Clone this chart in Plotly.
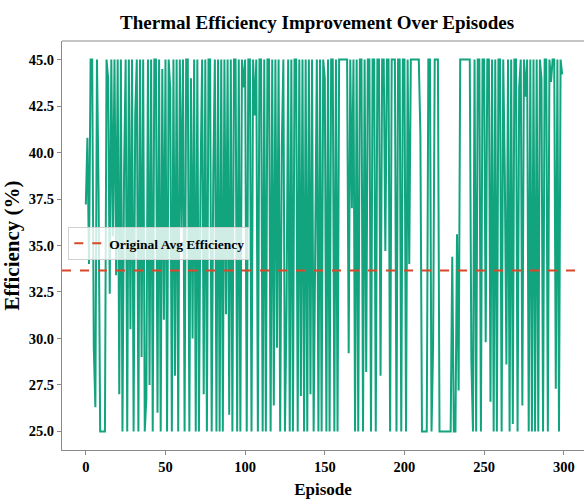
import plotly.graph_objects as go

episodes = list(range(300))
efficiency = [
    37.2, 40.8, 34.0, 45.0, 45.0, 29.5, 26.3, 45.0, 38.0, 25.0,
    25.0, 25.0, 25.0, 45.0, 44.0, 32.4, 45.0, 35.5, 45.0, 33.4,
    45.0, 27.0, 45.0, 25.0, 38.8, 45.0, 25.0, 45.0, 30.5, 45.0,
    25.0, 42.0, 45.0, 25.0, 45.0, 29.0, 45.0, 25.0, 26.8, 45.0,
    27.5, 45.0, 25.0, 45.0, 45.0, 26.0, 45.0, 25.0, 44.5, 31.0,
    45.0, 25.0, 45.0, 43.4, 25.0, 45.0, 28.0, 45.0, 25.0, 45.0,
    36.0, 45.0, 25.0, 45.0, 45.0, 25.0, 44.0, 30.0, 45.0, 25.0,
    45.0, 25.0, 38.5, 45.0, 27.0, 45.0, 25.0, 45.0, 45.0, 25.0,
    38.8, 45.0, 25.0, 45.0, 25.0, 45.0, 25.0, 45.0, 31.3, 45.0,
    25.9, 45.0, 25.0, 45.0, 45.0, 25.0, 45.0, 25.0, 45.0, 43.5,
    45.0, 25.0, 45.0, 45.0, 25.0, 45.0, 42.0, 45.0, 25.0, 45.0,
    45.0, 25.0, 45.0, 25.0, 45.0, 45.0, 25.0, 45.0, 26.4, 45.0,
    29.5, 45.0, 25.0, 40.3, 45.0, 25.0, 31.6, 45.0, 25.0, 45.0,
    25.0, 45.0, 45.0, 25.0, 45.0, 26.9, 45.0, 25.0, 45.0, 25.0,
    45.0, 27.0, 45.0, 25.0, 34.5, 45.0, 25.0, 45.0, 25.0, 45.0,
    44.0, 25.0, 45.0, 25.0, 45.0, 45.0, 25.0, 45.0, 25.0, 45.0,
    45.0, 45.0, 45.0, 45.0, 45.0, 29.2, 45.0, 37.0, 45.0, 25.0,
    45.0, 25.0, 45.0, 45.0, 25.0, 45.0, 28.2, 45.0, 45.0, 25.0,
    45.0, 45.0, 25.0, 45.0, 45.0, 28.0, 45.0, 45.0, 34.7, 45.0,
    45.0, 25.0, 45.0, 45.0, 45.0, 25.0, 45.0, 45.0, 25.0, 45.0,
    45.0, 25.0, 45.0, 34.0, 45.0, 45.0, 45.0, 45.0, 45.0, 45.0,
    41.0, 25.0, 25.0, 25.0, 25.0, 45.0, 45.0, 25.0, 29.7, 45.0,
    45.0, 45.0, 25.0, 25.0, 25.0, 25.0, 25.0, 25.0, 25.0, 25.0,
    34.4, 25.0, 25.0, 35.6, 27.2, 45.0, 45.0, 45.0, 45.0, 45.0,
    45.0, 45.0, 28.8, 25.0, 45.0, 25.0, 45.0, 45.0, 25.0, 45.0,
    45.0, 29.8, 45.0, 45.0, 26.6, 45.0, 25.0, 45.0, 25.0, 45.0,
    45.0, 25.0, 45.0, 38.8, 28.6, 45.0, 25.0, 45.0, 25.4, 45.0,
    45.0, 25.0, 43.5, 45.0, 26.4, 45.0, 43.0, 45.0, 25.0, 45.0,
    25.0, 45.0, 25.0, 45.0, 25.0, 45.0, 44.0, 25.0, 45.0, 45.0,
    25.0, 45.0, 43.8, 45.0, 45.0, 27.3, 45.0, 25.0, 45.0, 44.2,
]
original_avg = 33.65
x_ticks = [0, 50, 100, 150, 200, 250, 300]
y_ticks = [25.0, 27.5, 30.0, 32.5, 35.0, 37.5, 40.0, 42.5, 45.0]
y_tick_labels = ["25.0", "27.5", "30.0", "32.5", "35.0", "37.5", "40.0", "42.5", "45.0"]

FONT = "Liberation Serif"
LINE_COLOR = "#12a47f"
AVG_COLOR = "#d9472b"
AXIS_COLOR = "#8a8a8a"

fig = go.Figure()
fig.add_trace(go.Scatter(
    x=episodes, y=efficiency, mode="lines",
    line=dict(color=LINE_COLOR, width=2),
    showlegend=False, hoverinfo="skip",
))
fig.add_hline(
    y=original_avg, line=dict(color=AVG_COLOR, width=2, dash="dash"),
    showlegend=True, name="<b>Original Avg Efficiency</b>",
)
# top spine
fig.add_shape(type="line", xref="paper", yref="paper", x0=0, x1=1, y0=1, y1=1,
              line=dict(color=AXIS_COLOR, width=1))

fig.update_layout(
    width=584, height=500,
    margin=dict(l=62, r=0, t=41, b=50),
    plot_bgcolor="white", paper_bgcolor="white",
    font=dict(family=FONT, color="black"),
    title=dict(text="<b>Thermal Efficiency Improvement Over Episodes</b>",
               x=0.543, xanchor="center", y=0.955, yanchor="middle",
               font=dict(size=19, family=FONT, color="black")),
    legend=dict(x=0.012, y=0.545, xanchor="left", yanchor="top",
                bgcolor="rgba(255,255,255,0.8)", bordercolor="#d0d0d0", borderwidth=1,
                font=dict(size=13.5, family=FONT, color="black"),
                itemwidth=30),
    showlegend=True,
)
fig.update_xaxes(
    range=[-14.95, 312.7], tickvals=x_ticks, ticktext=[f"<b>{t}</b>" for t in x_ticks],
    showgrid=False, zeroline=False, showline=True, linecolor=AXIS_COLOR, linewidth=1,
    ticks="outside", ticklen=4, tickcolor=AXIS_COLOR,
    tickfont=dict(size=14.5, family=FONT, color="black"),
    title=dict(text="<b>Episode</b>", font=dict(size=17, family=FONT, color="black"), standoff=8),
)
fig.update_yaxes(
    range=[24.0, 46.0], tickvals=y_ticks, ticktext=[f"<b>{t}</b>" for t in y_tick_labels],
    showgrid=False, zeroline=False, showline=True, linecolor=AXIS_COLOR, linewidth=1,
    ticks="outside", ticklen=4, tickcolor=AXIS_COLOR,
    tickfont=dict(size=14.5, family=FONT, color="black"),
    title=dict(text="<b>Efficiency (%)</b>", font=dict(size=21, family=FONT, color="black"), standoff=6),
)
fig.write_html("out.html")
